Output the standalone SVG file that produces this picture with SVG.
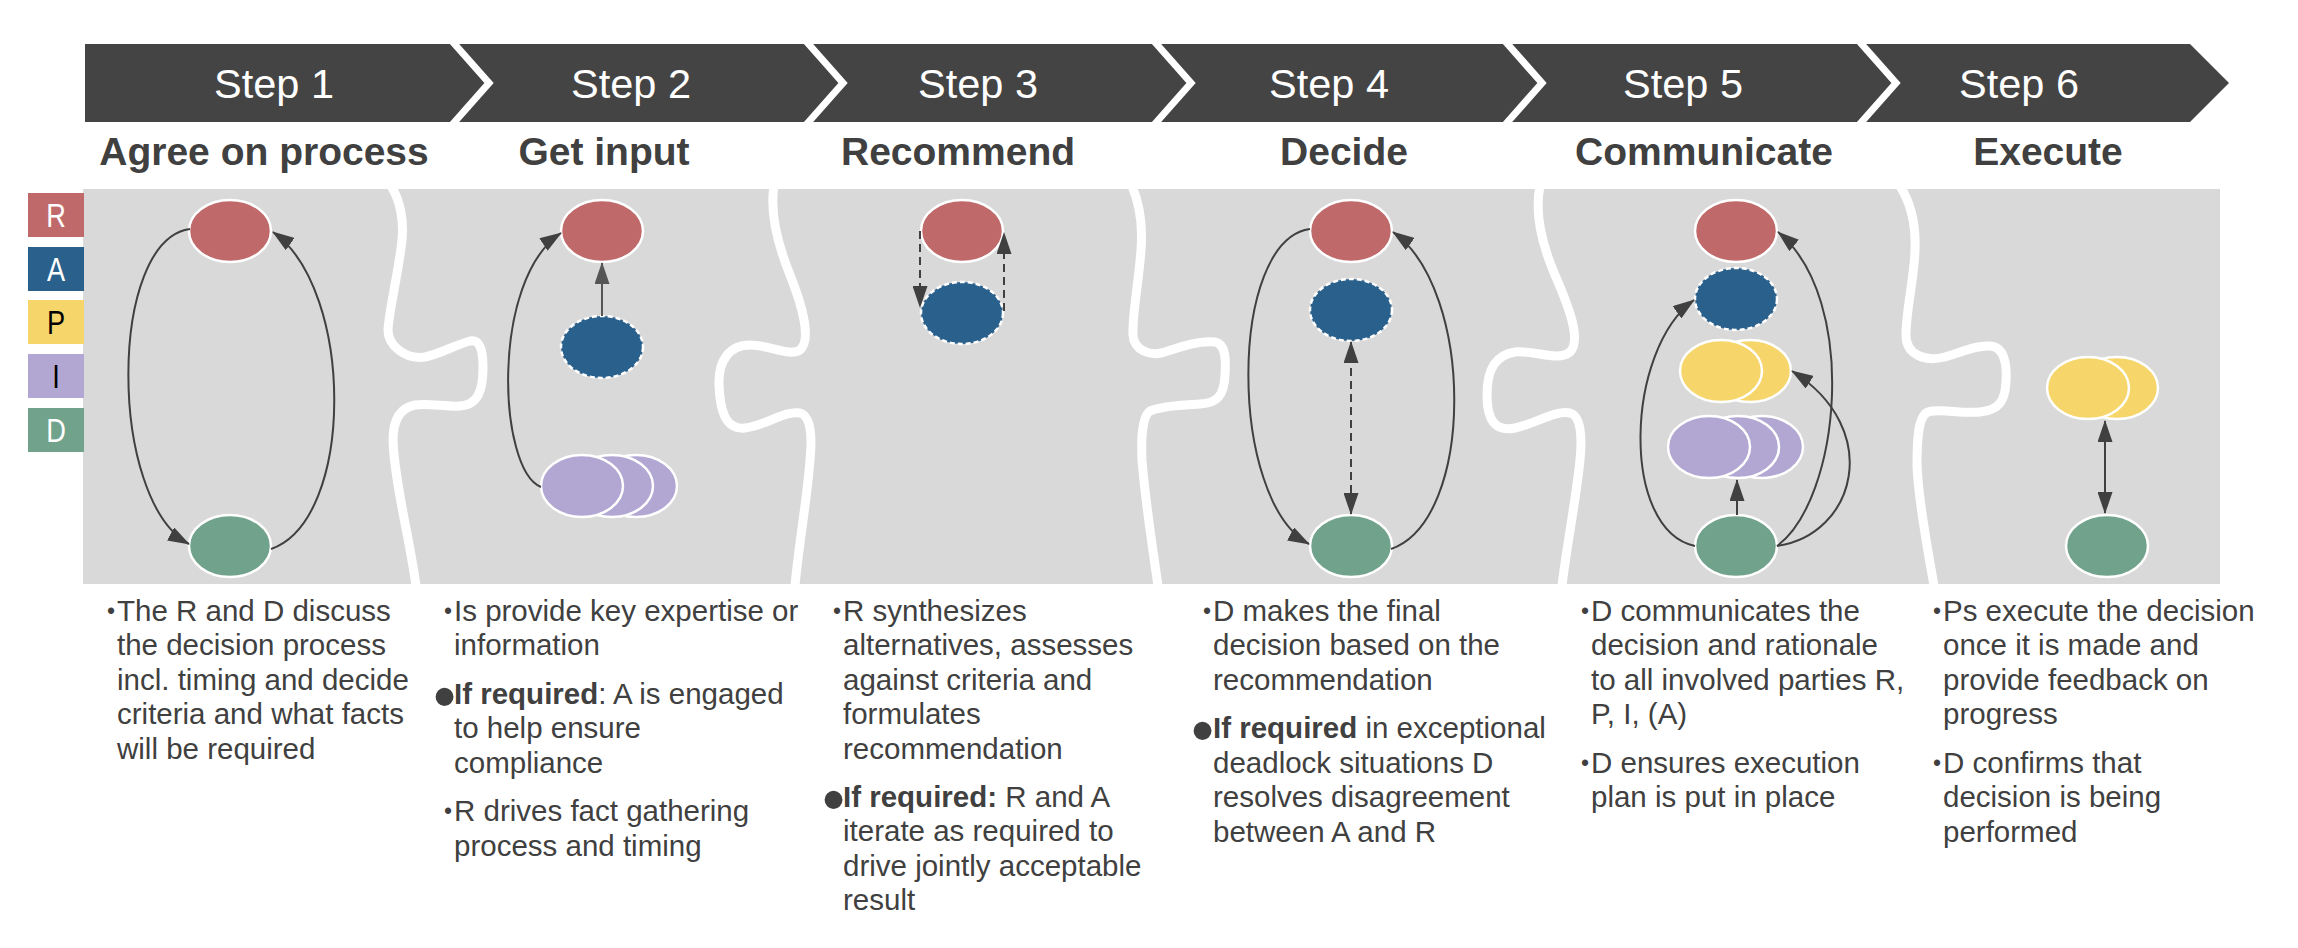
<svg xmlns="http://www.w3.org/2000/svg" width="2298" height="948" viewBox="0 0 2298 948">
<style>
.band{fill:#444444}
.chev{fill:none;stroke:#ffffff;stroke-width:7}
.step{font-family:"Liberation Sans",Arial,sans-serif;font-size:41.5px;fill:#ffffff;text-anchor:middle}
.sub{font-family:"Liberation Sans",Arial,sans-serif;font-size:39px;font-weight:bold;fill:#404040;text-anchor:middle}
.panel{fill:#d9d9d9}
.cut{fill:none;stroke:#ffffff;stroke-width:9;stroke-linecap:round;stroke-linejoin:round}
.lgt{font-family:"Liberation Sans",Arial,sans-serif;font-size:34px;text-anchor:middle}
.n{stroke:#ffffff;stroke-width:2.5}
.R{fill:#C0696A}
.A{fill:#2A608C;stroke-dasharray:5 3}
.P{fill:#F6D66A}
.I{fill:#B1A7D2}
.D{fill:#71A28C}
.e{fill:none;stroke:#404040;stroke-width:2}
.dash{stroke-dasharray:8 5}
.body{font-family:"Liberation Sans",Arial,sans-serif;font-size:29.5px;fill:#404040}
.sb{font-family:"Liberation Sans",Arial,sans-serif;font-size:23px;fill:#404040;text-anchor:end}
.bb{font-family:"Liberation Sans",Arial,sans-serif;font-size:66px;fill:#404040;text-anchor:end}
.b{font-weight:bold}
</style>
<defs>
<marker id="ah" viewBox="0 0 22 15" refX="21" refY="7.5" markerWidth="22" markerHeight="15" markerUnits="userSpaceOnUse" orient="auto-start-reverse">
<path d="M0,0 L22,7.5 L0,15 z" fill="#404040"/>
</marker>
<marker id="ah2" viewBox="0 0 22 15" refX="21" refY="7.5" markerWidth="22" markerHeight="15" markerUnits="userSpaceOnUse" orient="auto-start-reverse">
<path d="M0,0 L22,7.5 L0,15 z" fill="#555555"/>
</marker>
</defs>

<g id="header">
<path class="band" d="M85,44 L2190,44 L2229,83 L2190,122 L85,122 Z"/>
<polyline class="chev" points="451,40 489,83 451,126"/>
<polyline class="chev" points="805,40 843,83 805,126"/>
<polyline class="chev" points="1153,40 1191,83 1153,126"/>
<polyline class="chev" points="1504,40 1542,83 1504,126"/>
<polyline class="chev" points="1858,40 1896,83 1858,126"/>
<text class="step" x="274" y="98">Step 1</text>
<text class="step" x="631" y="98">Step 2</text>
<text class="step" x="978" y="98">Step 3</text>
<text class="step" x="1329" y="98">Step 4</text>
<text class="step" x="1683" y="98">Step 5</text>
<text class="step" x="2019" y="98">Step 6</text>
<text class="sub" x="264" y="165">Agree on process</text>
<text class="sub" x="604" y="165">Get input</text>
<text class="sub" x="958" y="165">Recommend</text>
<text class="sub" x="1344" y="165">Decide</text>
<text class="sub" x="1704" y="165">Communicate</text>
<text class="sub" x="2048" y="165">Execute</text>
</g>

<g id="panels">
<rect class="panel" x="83" y="189" width="2137" height="395"/>
<path class="cut" d="M391,186 C400,200 404,220 402,240 C399,270 389,310 388,330 C388,345 405,360 425,357 C440,354 455,345 470,341 C480,339 483,350 483,368 C483,390 478,405 460,406 C445,407 430,403 415,405 C400,408 393,420 393,440 C394,480 410,540 416,586"/>
<path class="cut" d="M774,186 C770,210 776,240 790,275 C802,305 812,340 800,350 C790,357 770,345 750,345 C730,345 718,360 719,385 C720,410 725,430 745,428 C765,426 785,410 800,413 C812,416 812,440 810,460 C807,500 798,550 795,586"/>
<path class="cut" d="M1132,186 C1140,205 1143,225 1141,250 C1139,280 1132,315 1133,335 C1134,350 1150,357 1165,352 C1180,347 1200,340 1215,342 C1226,344 1226,360 1225,375 C1224,395 1218,403 1200,404 C1185,405 1165,405 1150,411 C1142,416 1141,440 1142,460 C1145,500 1153,550 1158,586"/>
<path class="cut" d="M1540,186 C1535,210 1540,240 1555,275 C1568,305 1582,340 1570,352 C1558,362 1535,350 1515,352 C1495,355 1487,370 1487,395 C1487,420 1495,432 1515,428 C1535,424 1555,410 1570,413 C1582,416 1582,440 1580,460 C1576,500 1566,550 1562,586"/>
<path class="cut" d="M1900,186 C1912,205 1916,225 1915,250 C1914,280 1906,310 1906,335 C1906,355 1925,362 1945,357 C1960,353 1975,345 1990,346 C2005,347 2007,365 2006,382 C2005,400 2000,410 1980,412 C1960,414 1940,408 1928,412 C1918,416 1917,440 1917,465 C1918,500 1928,550 1934,586"/>
</g>

<g id="legend">
<rect class="R" x="28" y="193" width="56" height="44"/>
<text class="lgt" transform="translate(56,227) scale(0.8,1)" fill="#ffffff">R</text>
<rect class="A" style="stroke:none" x="28" y="247" width="56" height="44"/>
<text class="lgt" transform="translate(56,281) scale(0.8,1)" fill="#ffffff">A</text>
<rect class="P" x="28" y="300" width="56" height="44"/>
<text class="lgt" transform="translate(56,334) scale(0.8,1)" fill="#000000">P</text>
<rect class="I" x="28" y="354" width="56" height="44"/>
<text class="lgt" transform="translate(56,388) scale(0.8,1)" fill="#000000">I</text>
<rect class="D" x="28" y="408" width="56" height="44"/>
<text class="lgt" transform="translate(56,442) scale(0.8,1)" fill="#ffffff">D</text>
</g>

<g id="step1-nodes">
<ellipse id="s1-R" class="n R" cx="230" cy="231" rx="41" ry="31"/>
<ellipse id="s1-D" class="n D" cx="230" cy="546" rx="41" ry="31"/>
</g>
<g id="step2-nodes">
<ellipse id="s2-R" class="n R" cx="602" cy="231" rx="41" ry="31"/>
<ellipse id="s2-A" class="n A" cx="602" cy="347" rx="41" ry="31"/>
<g id="s2-I">
<ellipse class="n I" cx="636" cy="486" rx="41" ry="31"/>
<ellipse class="n I" cx="612" cy="486" rx="41" ry="31"/>
<ellipse class="n I" cx="582" cy="486" rx="41" ry="31"/>
</g>
</g>
<g id="step3-nodes">
<ellipse id="s3-R" class="n R" cx="962" cy="231" rx="41" ry="31"/>
<ellipse id="s3-A" class="n A" cx="962" cy="313" rx="41" ry="31"/>
</g>
<g id="step4-nodes">
<ellipse id="s4-R" class="n R" cx="1351" cy="231" rx="41" ry="31"/>
<ellipse id="s4-A" class="n A" cx="1351" cy="310" rx="41" ry="31"/>
<ellipse id="s4-D" class="n D" cx="1351" cy="546" rx="41" ry="31"/>
</g>
<g id="step5-nodes">
<ellipse id="s5-R" class="n R" cx="1736" cy="231" rx="41" ry="31"/>
<ellipse id="s5-A" class="n A" cx="1736" cy="299" rx="41" ry="31"/>
<g id="s5-P">
<ellipse class="n P" cx="1750" cy="371" rx="41" ry="31"/>
<ellipse class="n P" cx="1721" cy="371" rx="41" ry="31"/>
</g>
<g id="s5-I">
<ellipse class="n I" cx="1762" cy="447" rx="41" ry="31"/>
<ellipse class="n I" cx="1738" cy="447" rx="41" ry="31"/>
<ellipse class="n I" cx="1709" cy="447" rx="41" ry="31"/>
</g>
<ellipse id="s5-D" class="n D" cx="1736" cy="546" rx="41" ry="31"/>
</g>
<g id="step6-nodes">
<g id="s6-P">
<ellipse class="n P" cx="2117" cy="388" rx="41" ry="31"/>
<ellipse class="n P" cx="2088" cy="388" rx="41" ry="31"/>
</g>
<ellipse id="s6-D" class="n D" cx="2107" cy="546" rx="41" ry="31"/>
</g>

<g id="connectors">
<path class="e" d="M190,229 C108,240 108,500 189,544" marker-end="url(#ah)"/>
<path class="e" d="M271,549 C355,520 355,290 273,232" marker-end="url(#ah)"/>
<path class="e" style="stroke:#555555" d="M602,316 L602,263" marker-end="url(#ah2)"/>
<path class="e" d="M541,487 C498,470 490,280 561,233" marker-end="url(#ah)"/>
<path class="e dash" d="M920,231 L920,307" marker-end="url(#ah)"/>
<path class="e dash" d="M1004,311 L1004,233" marker-end="url(#ah)"/>
<path class="e" d="M1310,229 C1228,240 1228,500 1309,544" marker-end="url(#ah)"/>
<path class="e" d="M1391,549 C1475,520 1475,290 1393,232" marker-end="url(#ah)"/>
<path class="e dash" d="M1351,342 L1351,514" marker-start="url(#ah)" marker-end="url(#ah)"/>
<path class="e" d="M1737,515 L1737,480" marker-end="url(#ah)"/>
<path class="e" d="M1695,546 C1620,530 1625,350 1694,300" marker-end="url(#ah)"/>
<path class="e" d="M1777,546 C1840,500 1860,300 1778,232" marker-end="url(#ah)"/>
<path class="e" d="M1777,546 C1855,535 1885,430 1792,371" marker-end="url(#ah)"/>
<path class="e" d="M2105,421 L2105,513" marker-start="url(#ah)" marker-end="url(#ah)"/>
</g>

<g id="text-step1">
<text class="sb" x="115" y="619">•</text>
<text class="body">
<tspan x="117" y="621">The R and D discuss</tspan>
<tspan x="117" y="655.4">the decision process</tspan>
<tspan x="117" y="689.8">incl. timing and decide</tspan>
<tspan x="117" y="724.2">criteria and what facts</tspan>
<tspan x="117" y="758.6">will be required</tspan>
</text>
</g>
<g id="text-step2">
<text class="sb" x="452" y="619">•</text>
<text class="bb" x="456" y="719">•</text>
<text class="sb" x="452" y="819">•</text>
<text class="body">
<tspan x="454" y="621">Is provide key expertise or</tspan>
<tspan x="454" y="655.4">information</tspan>
<tspan x="454" y="704"><tspan class="b">If required</tspan>: A is engaged</tspan>
<tspan x="454" y="738.4">to help ensure</tspan>
<tspan x="454" y="772.8">compliance</tspan>
<tspan x="454" y="821.3">R drives fact gathering</tspan>
<tspan x="454" y="855.7">process and timing</tspan>
</text>
</g>
<g id="text-step3">
<text class="sb" x="841" y="619">•</text>
<text class="bb" x="845" y="822">•</text>
<text class="body">
<tspan x="843" y="621">R synthesizes</tspan>
<tspan x="843" y="655.4">alternatives, assesses</tspan>
<tspan x="843" y="689.8">against criteria and</tspan>
<tspan x="843" y="724.2">formulates</tspan>
<tspan x="843" y="758.6">recommendation</tspan>
<tspan x="843" y="807"><tspan class="b">If required:</tspan> R and A</tspan>
<tspan x="843" y="841.4">iterate as required to</tspan>
<tspan x="843" y="875.8">drive jointly acceptable</tspan>
<tspan x="843" y="910.2">result</tspan>
</text>
</g>
<g id="text-step4">
<text class="sb" x="1211" y="619">•</text>
<text class="bb" x="1214" y="753">•</text>
<text class="body">
<tspan x="1213" y="621">D makes the final</tspan>
<tspan x="1213" y="655.4">decision based on the</tspan>
<tspan x="1213" y="689.8">recommendation</tspan>
<tspan x="1213" y="738.3"><tspan class="b">If required</tspan> in exceptional</tspan>
<tspan x="1213" y="772.7">deadlock situations D</tspan>
<tspan x="1213" y="807.1">resolves disagreement</tspan>
<tspan x="1213" y="841.5">between A and R</tspan>
</text>
</g>
<g id="text-step5">
<text class="sb" x="1589" y="619">•</text>
<text class="sb" x="1589" y="770.7">•</text>
<text class="body">
<tspan x="1591" y="621">D communicates the</tspan>
<tspan x="1591" y="655.4">decision and rationale</tspan>
<tspan x="1591" y="689.8">to all involved parties R,</tspan>
<tspan x="1591" y="724.2">P, I, (A)</tspan>
<tspan x="1591" y="772.7">D ensures execution</tspan>
<tspan x="1591" y="807.1">plan is put in place</tspan>
</text>
</g>
<g id="text-step6">
<text class="sb" x="1941" y="619">•</text>
<text class="sb" x="1941" y="770.7">•</text>
<text class="body">
<tspan x="1943" y="621">Ps execute the decision</tspan>
<tspan x="1943" y="655.4">once it is made and</tspan>
<tspan x="1943" y="689.8">provide feedback on</tspan>
<tspan x="1943" y="724.2">progress</tspan>
<tspan x="1943" y="772.7">D confirms that</tspan>
<tspan x="1943" y="807.1">decision is being</tspan>
<tspan x="1943" y="841.5">performed</tspan>
</text>
</g>
</svg>
